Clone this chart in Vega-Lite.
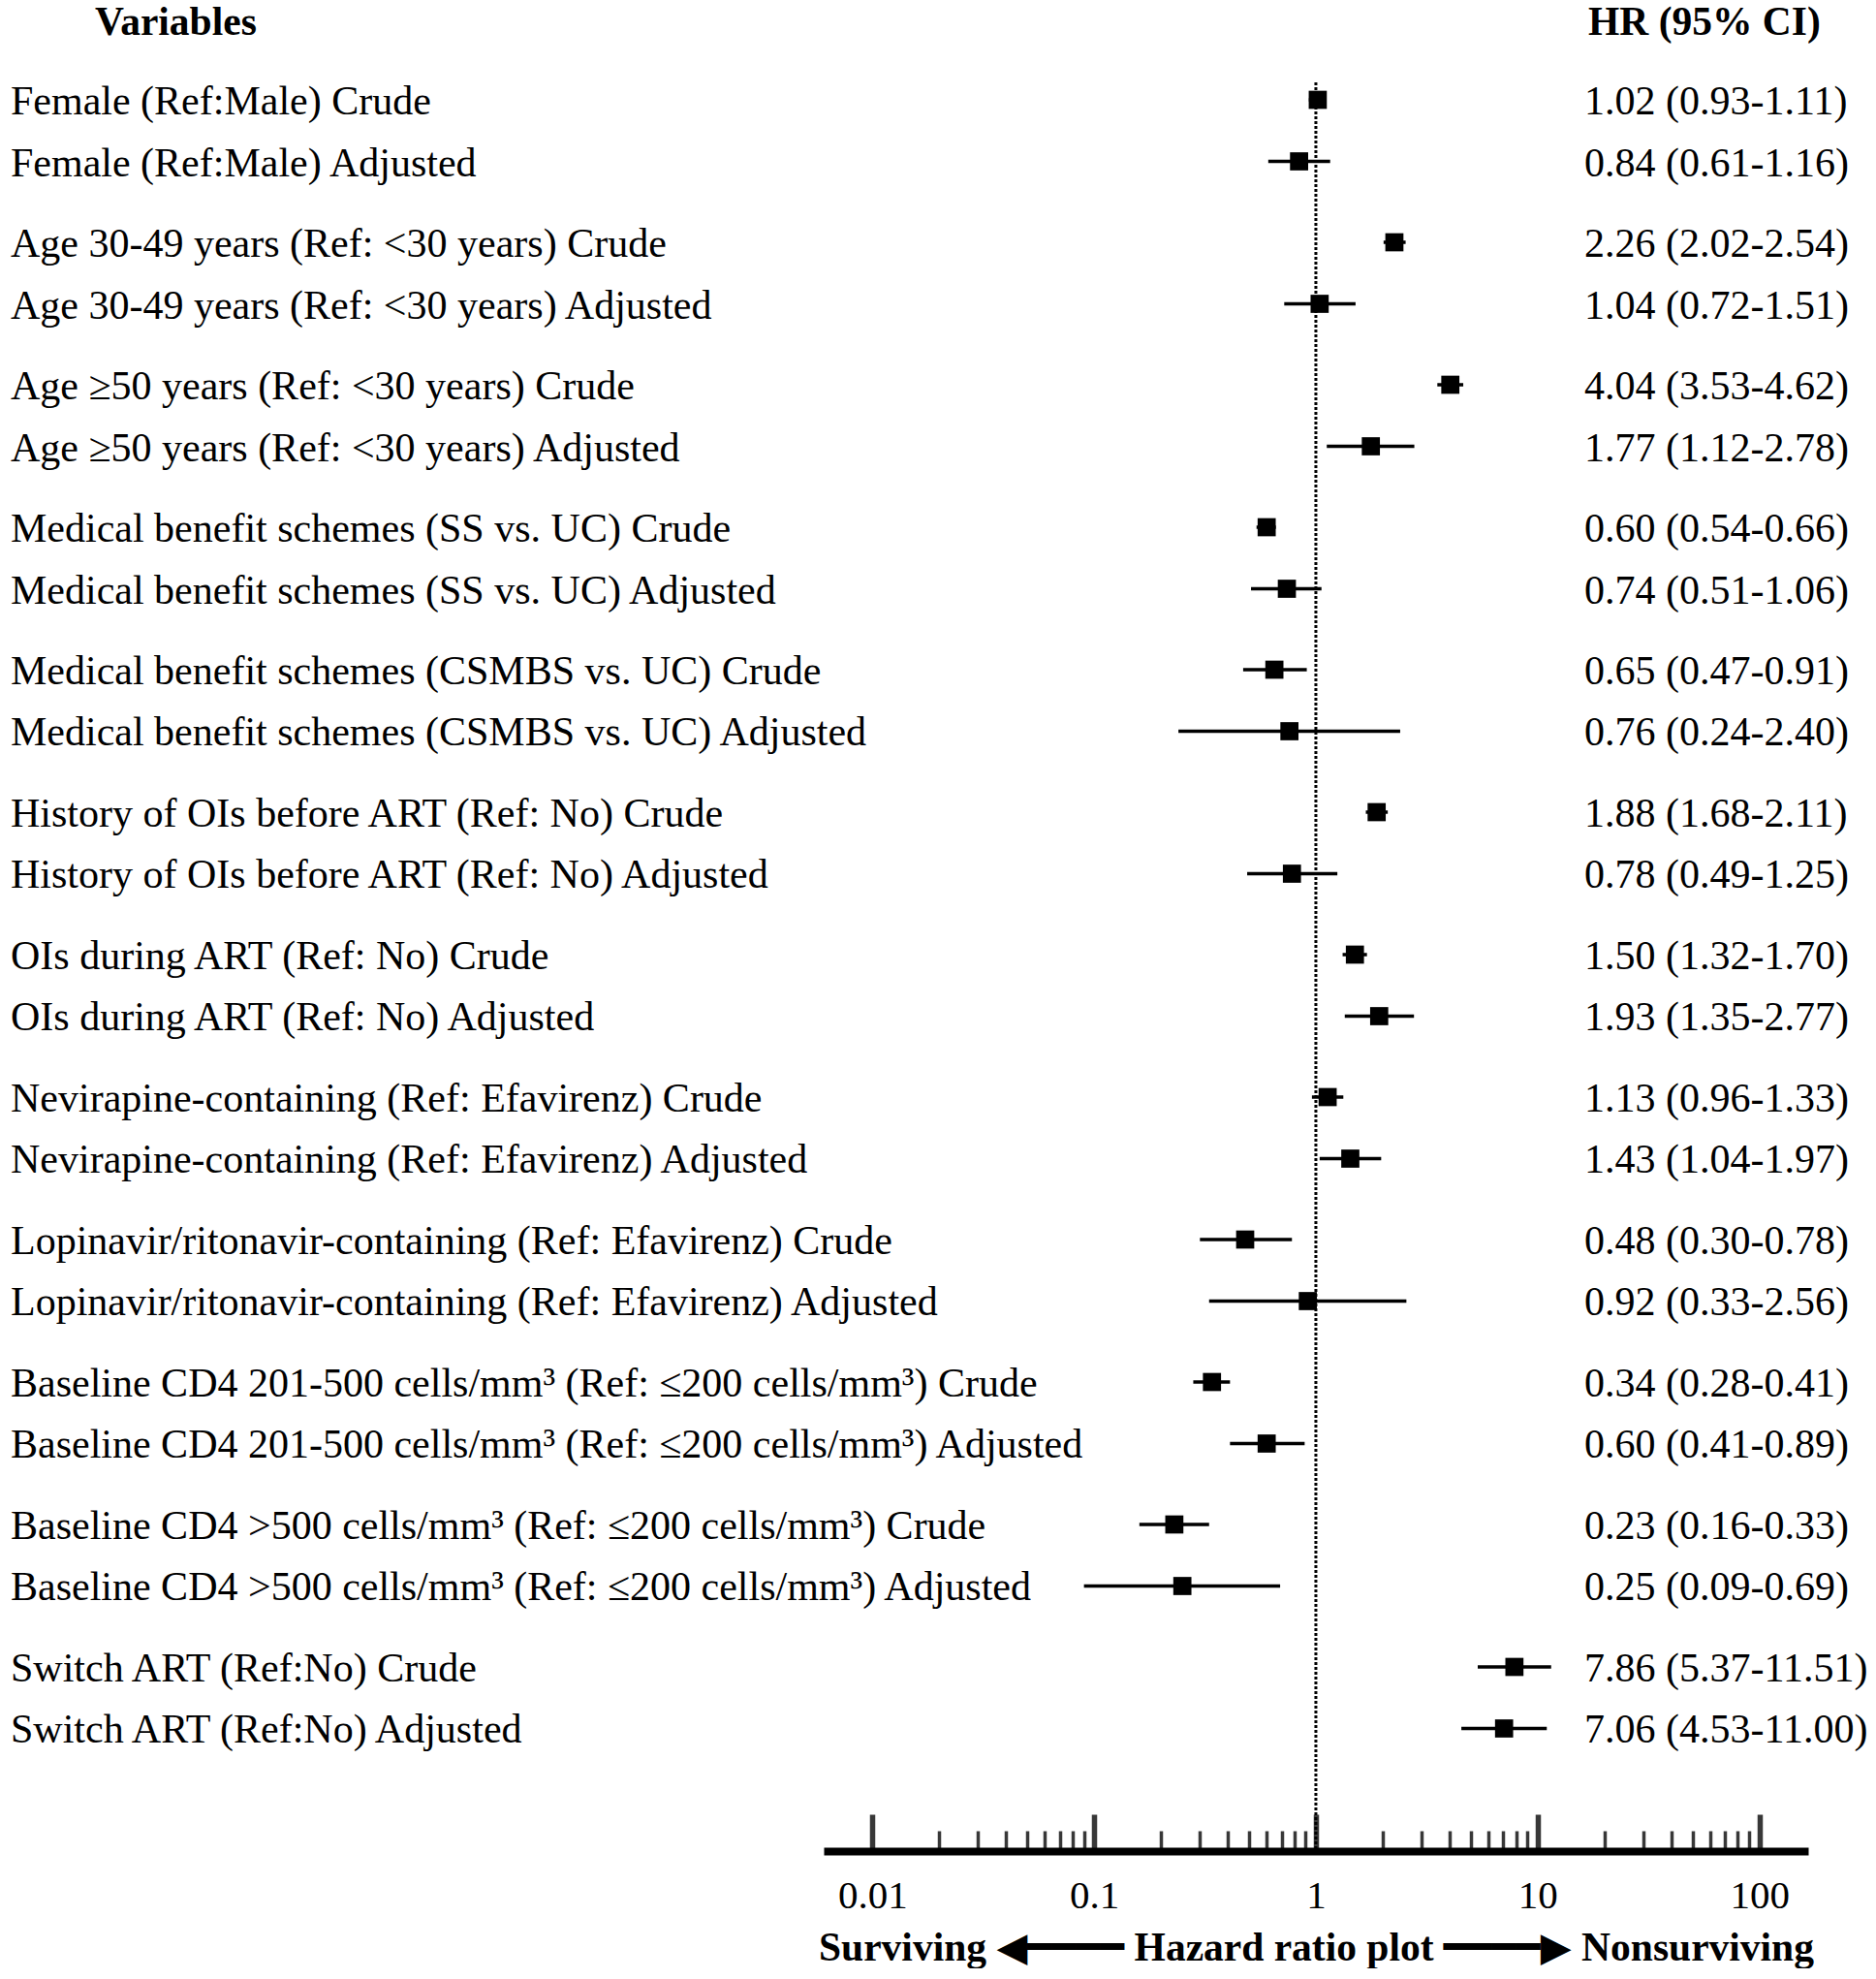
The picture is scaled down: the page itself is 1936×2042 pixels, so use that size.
{
  "$schema": "https://vega.github.io/schema/vega-lite/v6.json",
  "padding": {"left": 11, "top": 2, "right": 0, "bottom": 0},
  "bounds": "flush",
  "spacing": 0,
  "config": {
    "view": {"stroke": null},
    "font": "Liberation Serif",
    "title": {"font": "Liberation Serif", "fontSize": 41.5, "fontWeight": "bold", "color": "black", "anchor": "start", "baseline": "middle", "offset": 40}
  },
  "datasets": {
    "rows": [
      {"group": "Female (Ref:Male)", "type": "Crude", "label": "Female (Ref:Male) Crude", "hr": 1.02, "lo": 0.93, "hi": 1.11, "ci": "1.02 (0.93-1.11)"},
      {"group": "Female (Ref:Male)", "type": "Adjusted", "label": "Female (Ref:Male) Adjusted", "hr": 0.84, "lo": 0.61, "hi": 1.16, "ci": "0.84 (0.61-1.16)"},
      {"group": "Age 30-49 years (Ref: <30 years)", "type": "Crude", "label": "Age 30-49 years (Ref: <30 years) Crude", "hr": 2.26, "lo": 2.02, "hi": 2.54, "ci": "2.26 (2.02-2.54)"},
      {"group": "Age 30-49 years (Ref: <30 years)", "type": "Adjusted", "label": "Age 30-49 years (Ref: <30 years) Adjusted", "hr": 1.04, "lo": 0.72, "hi": 1.51, "ci": "1.04 (0.72-1.51)"},
      {"group": "Age ≥50 years (Ref: <30 years)", "type": "Crude", "label": "Age ≥50 years (Ref: <30 years) Crude", "hr": 4.04, "lo": 3.53, "hi": 4.62, "ci": "4.04 (3.53-4.62)"},
      {"group": "Age ≥50 years (Ref: <30 years)", "type": "Adjusted", "label": "Age ≥50 years (Ref: <30 years) Adjusted", "hr": 1.77, "lo": 1.12, "hi": 2.78, "ci": "1.77 (1.12-2.78)"},
      {"group": "Medical benefit schemes (SS vs. UC)", "type": "Crude", "label": "Medical benefit schemes (SS vs. UC) Crude", "hr": 0.60, "lo": 0.54, "hi": 0.66, "ci": "0.60 (0.54-0.66)"},
      {"group": "Medical benefit schemes (SS vs. UC)", "type": "Adjusted", "label": "Medical benefit schemes (SS vs. UC) Adjusted", "hr": 0.74, "lo": 0.51, "hi": 1.06, "ci": "0.74 (0.51-1.06)"},
      {"group": "Medical benefit schemes (CSMBS vs. UC)", "type": "Crude", "label": "Medical benefit schemes (CSMBS vs. UC) Crude", "hr": 0.65, "lo": 0.47, "hi": 0.91, "ci": "0.65 (0.47-0.91)"},
      {"group": "Medical benefit schemes (CSMBS vs. UC)", "type": "Adjusted", "label": "Medical benefit schemes (CSMBS vs. UC) Adjusted", "hr": 0.76, "lo": 0.24, "hi": 2.40, "ci": "0.76 (0.24-2.40)"},
      {"group": "History of OIs before ART (Ref: No)", "type": "Crude", "label": "History of OIs before ART (Ref: No) Crude", "hr": 1.88, "lo": 1.68, "hi": 2.11, "ci": "1.88 (1.68-2.11)"},
      {"group": "History of OIs before ART (Ref: No)", "type": "Adjusted", "label": "History of OIs before ART (Ref: No) Adjusted", "hr": 0.78, "lo": 0.49, "hi": 1.25, "ci": "0.78 (0.49-1.25)"},
      {"group": "OIs during ART (Ref: No)", "type": "Crude", "label": "OIs during ART (Ref: No) Crude", "hr": 1.50, "lo": 1.32, "hi": 1.70, "ci": "1.50 (1.32-1.70)"},
      {"group": "OIs during ART (Ref: No)", "type": "Adjusted", "label": "OIs during ART (Ref: No) Adjusted", "hr": 1.93, "lo": 1.35, "hi": 2.77, "ci": "1.93 (1.35-2.77)"},
      {"group": "Nevirapine-containing (Ref: Efavirenz)", "type": "Crude", "label": "Nevirapine-containing (Ref: Efavirenz) Crude", "hr": 1.13, "lo": 0.96, "hi": 1.33, "ci": "1.13 (0.96-1.33)"},
      {"group": "Nevirapine-containing (Ref: Efavirenz)", "type": "Adjusted", "label": "Nevirapine-containing (Ref: Efavirenz) Adjusted", "hr": 1.43, "lo": 1.04, "hi": 1.97, "ci": "1.43 (1.04-1.97)"},
      {"group": "Lopinavir/ritonavir-containing (Ref: Efavirenz)", "type": "Crude", "label": "Lopinavir/ritonavir-containing (Ref: Efavirenz) Crude", "hr": 0.48, "lo": 0.30, "hi": 0.78, "ci": "0.48 (0.30-0.78)"},
      {"group": "Lopinavir/ritonavir-containing (Ref: Efavirenz)", "type": "Adjusted", "label": "Lopinavir/ritonavir-containing (Ref: Efavirenz) Adjusted", "hr": 0.92, "lo": 0.33, "hi": 2.56, "ci": "0.92 (0.33-2.56)"},
      {"group": "Baseline CD4 201-500 cells/mm³ (Ref: ≤200 cells/mm³)", "type": "Crude", "label": "Baseline CD4 201-500 cells/mm³ (Ref: ≤200 cells/mm³) Crude", "hr": 0.34, "lo": 0.28, "hi": 0.41, "ci": "0.34 (0.28-0.41)"},
      {"group": "Baseline CD4 201-500 cells/mm³ (Ref: ≤200 cells/mm³)", "type": "Adjusted", "label": "Baseline CD4 201-500 cells/mm³ (Ref: ≤200 cells/mm³) Adjusted", "hr": 0.60, "lo": 0.41, "hi": 0.89, "ci": "0.60 (0.41-0.89)"},
      {"group": "Baseline CD4 >500 cells/mm³ (Ref: ≤200 cells/mm³)", "type": "Crude", "label": "Baseline CD4 >500 cells/mm³ (Ref: ≤200 cells/mm³) Crude", "hr": 0.23, "lo": 0.16, "hi": 0.33, "ci": "0.23 (0.16-0.33)"},
      {"group": "Baseline CD4 >500 cells/mm³ (Ref: ≤200 cells/mm³)", "type": "Adjusted", "label": "Baseline CD4 >500 cells/mm³ (Ref: ≤200 cells/mm³) Adjusted", "hr": 0.25, "lo": 0.09, "hi": 0.69, "ci": "0.25 (0.09-0.69)"},
      {"group": "Switch ART (Ref:No)", "type": "Crude", "label": "Switch ART (Ref:No) Crude", "hr": 7.86, "lo": 5.37, "hi": 11.51, "ci": "7.86 (5.37-11.51)"},
      {"group": "Switch ART (Ref:No)", "type": "Adjusted", "label": "Switch ART (Ref:No) Adjusted", "hr": 7.06, "lo": 4.53, "hi": 11.00, "ci": "7.06 (4.53-11.00)"}
    ]
  },
  "hconcat": [
    {
      "width": 839,
      "height": 1825,
      "data": {"name": "rows"},
      "title": {"text": "Variables", "dx": 87},
      "mark": {"type": "text", "align": "left", "baseline": "middle", "fontSize": 42, "dy": 2, "color": "black", "font": "Liberation Serif"},
      "encoding": {
        "x": {"value": 0},
        "y": {"field": "group", "type": "nominal", "sort": null, "axis": null, "scale": {"paddingInner": 0, "paddingOuter": 0.2075, "align": 0}},
        "yOffset": {"field": "type", "type": "nominal", "sort": ["Crude", "Adjusted"], "scale": {"paddingInner": 1, "paddingOuter": 0.6575, "align": 0.2156}},
        "text": {"field": "label", "type": "nominal"}
      }
    },
    {
      "width": 785,
      "height": 1825,
      "layer": [
        {
          "data": {"values": [{}]},
          "mark": {"type": "rule", "strokeDash": [3, 2], "strokeWidth": 3, "color": "black"},
          "encoding": {
            "x": {
              "datum": 1, "type": "quantitative",
              "scale": {"type": "log", "domain": [0.00603, 166], "nice": false, "range": [0, 1016]},
              "axis": {
                "orient": "bottom",
                "values": [0.01, 0.02, 0.03, 0.04, 0.05, 0.06, 0.07, 0.08, 0.09, 0.1, 0.2, 0.3, 0.4, 0.5, 0.6, 0.7, 0.8, 0.9, 1, 2, 3, 4, 5, 6, 7, 8, 9, 10, 20, 30, 40, 50, 60, 70, 80, 90, 100],
                "tickSize": {"condition": {"test": "datum.value == 0.01 || datum.value == 0.1 || datum.value == 1 || datum.value == 10 || datum.value == 100", "value": -38}, "value": -21},
                "tickWidth": {"condition": {"test": "datum.value == 0.01 || datum.value == 0.1 || datum.value == 1 || datum.value == 10 || datum.value == 100", "value": 5.5}, "value": 3.5},
                "tickColor": "#383838",
                "domainColor": "black",
                "domainWidth": 8,
                "grid": false,
                "labelExpr": "datum.value == 0.01 ? '0.01' : datum.value == 0.1 ? '0.1' : datum.value == 1 ? '1' : datum.value == 10 ? '10' : datum.value == 100 ? '100' : ''",
                "labelFont": "Liberation Serif",
                "labelFontSize": 41,
                "labelColor": "black",
                "labelPadding": 64,
                "labelOverlap": false,
                "labelFlush": false,
                "labelBound": false,
                "title": "Surviving ◀━━━━ Hazard ratio plot ━━━━▶ Nonsurviving",
                "titleFont": "Liberation Serif, DejaVu Sans",
                "titleFontSize": 41.5,
                "titleFontWeight": "bold",
                "titleColor": "black",
                "titlePadding": -4
              }
            }
          }
        },
        {
          "data": {"name": "rows"},
          "mark": {"type": "rule", "strokeWidth": 3.5, "color": "black"},
          "encoding": {
            "x": {"field": "lo", "type": "quantitative", "scale": {"type": "log", "domain": [0.00603, 166], "nice": false, "range": [0, 1016]}},
            "x2": {"field": "hi"},
            "y": {"field": "group", "type": "nominal", "sort": null, "axis": null, "scale": {"paddingInner": 0, "paddingOuter": 0.2075, "align": 0}},
            "yOffset": {"field": "type", "type": "nominal", "sort": ["Crude", "Adjusted"], "scale": {"paddingInner": 1, "paddingOuter": 0.6575, "align": 0.2156}}
          }
        },
        {
          "data": {"name": "rows"},
          "mark": {"type": "point", "shape": "square", "filled": true, "size": 350, "color": "black", "opacity": 1},
          "encoding": {
            "x": {"field": "hr", "type": "quantitative", "scale": {"type": "log", "domain": [0.00603, 166], "nice": false, "range": [0, 1016]}},
            "y": {"field": "group", "type": "nominal", "sort": null, "axis": null, "scale": {"paddingInner": 0, "paddingOuter": 0.2075, "align": 0}},
            "yOffset": {"field": "type", "type": "nominal", "sort": ["Crude", "Adjusted"], "scale": {"paddingInner": 1, "paddingOuter": 0.6575, "align": 0.2156}}
          }
        }
      ]
    },
    {
      "width": 300,
      "height": 1825,
      "data": {"name": "rows"},
      "title": {"text": "HR (95% CI)", "dx": 4},
      "mark": {"type": "text", "align": "left", "baseline": "middle", "fontSize": 42, "dy": 2, "color": "black", "font": "Liberation Serif"},
      "encoding": {
        "x": {"value": 0},
        "y": {"field": "group", "type": "nominal", "sort": null, "axis": null, "scale": {"paddingInner": 0, "paddingOuter": 0.2075, "align": 0}},
        "yOffset": {"field": "type", "type": "nominal", "sort": ["Crude", "Adjusted"], "scale": {"paddingInner": 1, "paddingOuter": 0.6575, "align": 0.2156}},
        "text": {"field": "ci", "type": "nominal"}
      }
    }
  ]
}
